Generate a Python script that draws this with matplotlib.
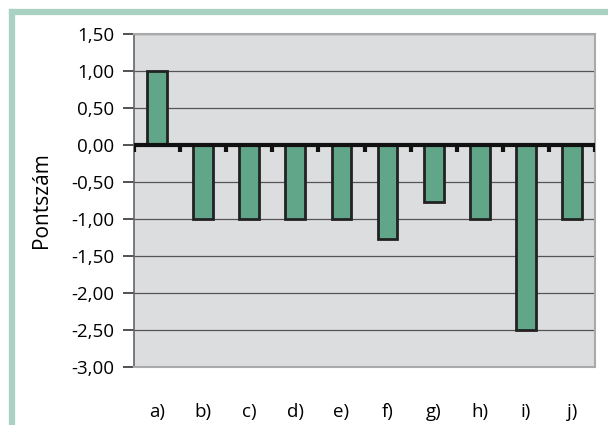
import numpy as np
import matplotlib.pyplot as plt
from matplotlib.lines import Line2D

categories = ['a)', 'b)', 'c)', 'd)', 'e)', 'f)', 'g)', 'h)', 'i)', 'j)']
values = [1.00, -1.00, -1.00, -1.00, -1.00, -1.27, -0.77, -1.00, -2.50, -1.00]
yticks = [1.5, 1.0, 0.5, 0.0, -0.5, -1.0, -1.5, -2.0, -2.5, -3.0]

plt.rcParams['font.family'] = ['Open Sans', 'DejaVu Sans']

fig = plt.figure(figsize=(6.08, 4.25), dpi=100)
ax = fig.add_axes([134/608, 1-367/425, 461/608, 333/425])

x = np.arange(len(categories))
ax.set_facecolor('#dcdddf')
ax.set_axisbelow(True)
ax.yaxis.grid(True, color='#555555', linewidth=0.9)
ax.bar(x, values, width=0.43, color='#62a68a', edgecolor='#222222', linewidth=2, zorder=3)

ax.set_xlim(-0.5, len(categories) - 0.5)
ax.set_ylim(-3.0, 1.5)
ax.set_yticks(yticks)
ax.set_yticklabels([('%.2f' % v).replace('.', ',') for v in yticks], fontsize=13.5)
ax.tick_params(axis='y', length=8, width=1.2, color='#333333', pad=6)

# category labels at bottom, separator ticks on the zero line
ax.set_xticks(x)
ax.set_xticklabels(categories, fontsize=13.5)
ax.tick_params(axis='x', length=0, pad=26)
ax.axhline(0, color='#111111', linewidth=3, zorder=4)
for b in np.arange(-0.5, len(categories), 1.0):
    ax.plot([b, b], [0, -0.09], color='#111111', linewidth=3, zorder=4, solid_capstyle='butt')

for s in ['top', 'right', 'bottom']:
    ax.spines[s].set_color('#aaaaaa')
    ax.spines[s].set_linewidth(1.5)
ax.spines['left'].set_color('#666666')
ax.spines['left'].set_linewidth(1.2)

ax.set_ylabel('Pontszám', fontsize=15, labelpad=14)

# light green frame around the chart
fig.add_artist(Line2D([12/608, 1], [1-12/425, 1-12/425], color='#a9d2c2', linewidth=4.5))
fig.add_artist(Line2D([12/608, 12/608], [0, 1-12/425], color='#a9d2c2', linewidth=4.5))

plt.savefig('out.png', dpi=100)
